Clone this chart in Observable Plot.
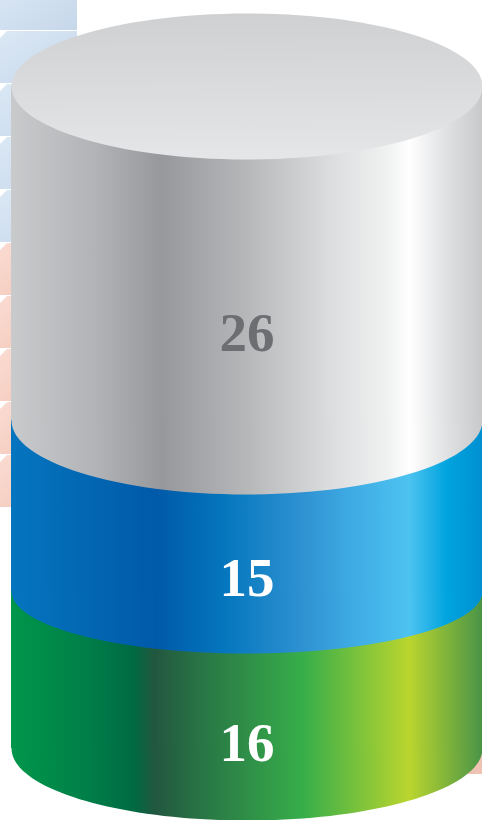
<!DOCTYPE html>
<html><head><meta charset="utf-8">
<script src="https://cdn.jsdelivr.net/npm/d3@7"></script>
<script src="https://cdn.jsdelivr.net/npm/@observablehq/plot@0.6"></script>
<style>html,body{margin:0;padding:0;background:#fff;overflow:hidden}svg{display:block}</style>
</head><body><div id="chart"></div>
<script>
// Data, stacked from the bottom of the cylinder
const categories = ["green", "blue", "grey"];
const values = [16, 15, 26];

const starts = values.map((_, i) => d3.sum(values.slice(0, i)));
const ends = values.map((_, i) => d3.sum(values.slice(0, i + 1)));
const segments = categories.map((c, i) => ({c, value: values[i], y1: starts[i], y2: ends[i]}));

// Drawing style (one entry per category)
const style = {
  green: {gradient: "g-green", ry: 72, text: "#ffffff", dy: 73,
    stops: [[0,"#00964a"],[.16,"#007f48"],[.26,"#006a43"],[.305,"#22573f"],[.40,"#287445"],[.62,"#37ae4a"],[.845,"#bad52e"],[1,"#4a9447"]]},
  blue: {gradient: "g-blue", ry: 62, text: "#ffffff", dy: 72,
    stops: [[0,"#0575bf"],[.16,"#0367b3"],[.31,"#005aa9"],[.45,"#0476bd"],[.62,"#2f92d2"],[.72,"#3eaae3"],[.845,"#4dc3f0"],[.925,"#00a4df"],[1,"#0090d2"]]},
  grey: {gradient: "g-grey", ry: 74, text: "#6d6e71", dy: 80,
    stops: [[0,"#c9cacc"],[.18,"#b2b3b6"],[.32,"#97989c"],[.5,"#b6b7b9"],[.68,"#dcddde"],[.80,"#f0f1f1"],[.845,"#ffffff"],[.93,"#dedfe1"],[1,"#c8c9cb"]]}
};
const topStops = [[0,"#cfd0d2"],[1,"#e5e6e7"]];

const svgNS = "http://www.w3.org/2000/svg";
const el = (name, attrs, ...kids) => {
  const e = document.createElementNS(svgNS, name);
  for (const k in attrs) e.setAttribute(k, attrs[k]);
  kids.forEach(k => e.appendChild(k));
  return e;
};
const gradient = (id, stops, x1, y1, x2, y2) => el("linearGradient", {id, x1, y1, x2, y2},
  ...stops.map(([o, c]) => el("stop", {offset: o, "stop-color": c})));

const defs = () => el("defs", {},
  ...categories.map(c => gradient(style[c].gradient, style[c].stops, 0, 0, 1, 0)),
  gradient("g-top", topStops, .49, 0, .51, 1),
  gradient("g-tile-b", [[0,"#dbe8f5"],[1,"#c6d7ea"]], 0, 0, 1, 1),
  gradient("g-tile-p", [[0,"#fadcd2"],[1,"#f3c5b6"]], 0, 0, 1, 1));

// Leftover table tiles behind the cylinder (decoration, not data)
const tiles = () => {
  const g = el("g", {});
  const add = (x, y, w, h, fill) => {
    g.appendChild(el("rect", {x, y, width: w, height: h, fill}));
    g.appendChild(el("path", {d: `M${x} ${y}h7l-7 7z`, fill: "#fff"}));
  };
  g.appendChild(el("rect", {x: 0, y: -22, width: 77, height: 52, fill: "url(#g-tile-b)"}));
  for (let i = 0; i < 4; i++) add(0, 31 + i * 53, 77, 52, "url(#g-tile-b)");
  for (let i = 0; i < 5; i++) add(0, 243 + i * 53, 60, 52, "url(#g-tile-p)");
  g.appendChild(el("rect", {x: 440, y: 721, width: 42, height: 53, fill: "#eec3b4"}));
  return g;
};

const ellipse = ry => ({
  draw(ctx, size) {
    const r = Math.sqrt(size / Math.PI);
    ctx.moveTo(r, 0);
    ctx.bezierCurveTo(r, ry * .5523, r * .5523, ry, 0, ry);
    ctx.bezierCurveTo(-r * .5523, ry, -r, ry * .5523, -r, 0);
    ctx.bezierCurveTo(-r, -ry * .5523, -r * .5523, -ry, 0, -ry);
    ctx.bezierCurveTo(r * .5523, -ry, r, -ry * .5523, r, 0);
    ctx.closePath();
  }
});

const radius = 235.5;
const marks = [defs, tiles];
for (const s of segments) {
  const st = style[s.c];
  const fill = `url(#${st.gradient})`;
  marks.push(Plot.dot([s], {x: () => 0, y: "y1", r: radius, symbol: ellipse(st.ry), fill, stroke: "none"}));
  marks.push(Plot.rect([s], {x1: () => -1, x2: () => 1, y1: "y1", y2: "y2", fill, inset: 0}));
}
marks.push(Plot.dot([ends[ends.length - 1]], {x: () => 0, y: d => d, r: radius, symbol: ellipse(73), fill: "url(#g-top)", stroke: "none"}));
for (const s of segments) {
  const st = style[s.c];
  marks.push(Plot.text([s], {x: () => 0, y: d => (d.y1 + d.y2) / 2, text: d => String(d.value), dy: st.dy,
    fill: st.text, fontFamily: "Liberation Serif", fontWeight: "bold", fontSize: 55}));
}

const chart = Plot.plot({
  width: 482, height: 820, margin: 0,
  x: {axis: null, domain: [-1, 1], range: [11, 482]},
  y: {type: "linear", axis: null, domain: [0, 16, 31, 57], range: [748, 591, 420, 86]},
  marks
});
document.getElementById("chart").appendChild(chart);
</script></body></html>
